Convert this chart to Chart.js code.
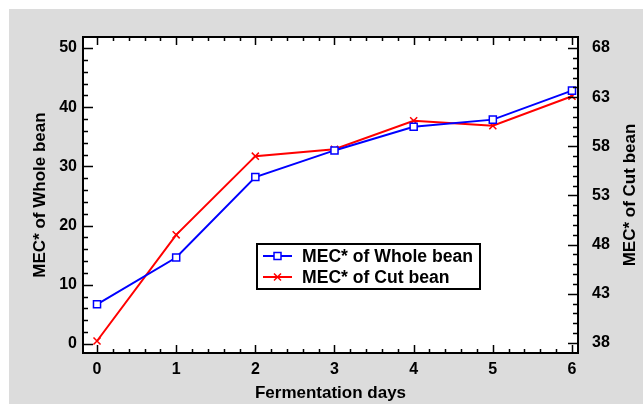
<!DOCTYPE html>
<html><head><meta charset="utf-8">
<script src="https://cdn.jsdelivr.net/npm/chart.js@4/dist/chart.umd.min.js"></script>
<style>html,body{margin:0;padding:0;background:#fff;overflow:hidden}</style>
</head><body><canvas id="c" width="643" height="404" style="display:block;width:643px;height:404px"></canvas>
<script>
const days = [0, 1, 2, 3, 4, 5, 6];
const wholeBean = [6.7, 14.6, 28.2, 32.7, 36.7, 37.9, 42.8];
const cutBean = [38.2, 49.0, 57.0, 57.7, 60.6, 60.1, 63.1];
const xTicks = [0, 1, 2, 3, 4, 5, 6];
const leftTicks = [0, 10, 20, 30, 40, 50];
const rightTicks = [38, 43, 48, 53, 58, 63, 68];
const seriesLabels = ['MEC* of Whole bean', 'MEC* of Cut bean'];
const xTitle = 'Fermentation days';
const leftTitle = 'MEC* of Whole bean';
const rightTitle = 'MEC* of Cut bean';

const FONT = '"Liberation Sans", Arial, sans-serif';

function minorsOf(majors, n) {
  const out = [];
  for (let i = 0; i < majors.length - 1; i++) {
    const a = majors[i], b = majors[i + 1];
    for (let k = 1; k < n; k++) out.push(a + (b - a) * k / n);
  }
  return out;
}

function drawMarker(ctx, style, x, y, color) {
  ctx.save();
  ctx.strokeStyle = color; ctx.lineWidth = 1.5;
  if (style === 'rect') {
    ctx.fillStyle = '#fff';
    ctx.beginPath(); ctx.rect(x - 3.5, y - 3.5, 7, 7); ctx.fill(); ctx.stroke();
  } else {
    ctx.beginPath();
    ctx.moveTo(x - 3.5, y - 3.5); ctx.lineTo(x + 3.5, y + 3.5);
    ctx.moveTo(x + 3.5, y - 3.5); ctx.lineTo(x - 3.5, y + 3.5);
    ctx.stroke();
  }
  ctx.restore();
}

const framePlugin = {
  id: 'frame',
  beforeDraw(chart) {
    const ctx = chart.ctx, a = chart.chartArea;
    ctx.save();
    ctx.fillStyle = '#ffffff'; ctx.fillRect(0, 0, chart.width, chart.height);
    ctx.fillStyle = '#dcdcdc'; ctx.fillRect(9, 9, chart.width - 9, chart.height - 9);
    ctx.fillStyle = '#ffffff'; ctx.fillRect(a.left, a.top, a.right - a.left, a.bottom - a.top);
    ctx.restore();
  },
  afterDatasetsDraw(chart) {
    const ctx = chart.ctx, a = chart.chartArea;
    const sx = chart.scales.x, sl = chart.scales.y, sr = chart.scales.y1;
    ctx.save();
    ctx.strokeStyle = '#000'; ctx.lineWidth = 1.5;
    ctx.beginPath();
    const tick = (vals, len, side, scale) => {
      vals.forEach(v => {
        const p = Math.round(scale.getPixelForValue(v)) + 0.5;
        if (side === 'b') { ctx.moveTo(p, a.bottom); ctx.lineTo(p, a.bottom - len); }
        if (side === 't') { ctx.moveTo(p, a.top); ctx.lineTo(p, a.top + len); }
        if (side === 'l') { ctx.moveTo(a.left, p); ctx.lineTo(a.left + len, p); }
        if (side === 'r') { ctx.moveTo(a.right, p); ctx.lineTo(a.right - len, p); }
      });
    };
    tick(xTicks, 8, 'b', sx); tick(minorsOf(xTicks, 5), 4, 'b', sx);
    tick(xTicks, 8, 't', sx); tick(minorsOf(xTicks, 5), 4, 't', sx);
    tick(leftTicks, 10, 'l', sl); tick(minorsOf(leftTicks, 5), 5, 'l', sl);
    tick(rightTicks, 10, 'r', sr); tick(minorsOf(rightTicks, 5), 5, 'r', sr);
    ctx.stroke();
    ctx.lineWidth = 2;
    ctx.strokeRect(a.left, a.top, a.right - a.left, a.bottom - a.top);

    // right axis title, reading bottom-to-top
    ctx.save();
    ctx.fillStyle = '#000'; ctx.font = 'bold 17px ' + FONT;
    ctx.textAlign = 'center'; ctx.textBaseline = 'middle';
    ctx.translate(630, (a.top + a.bottom) / 2);
    ctx.rotate(-Math.PI / 2);
    ctx.fillText(rightTitle, 0, 0);
    ctx.restore();

    // legend
    const lx = 257, ly = 244, lw = 223, lh = 45;
    ctx.fillStyle = '#fff'; ctx.fillRect(lx, ly, lw, lh);
    ctx.strokeStyle = '#000'; ctx.lineWidth = 2; ctx.strokeRect(lx, ly, lw, lh);
    const rows = [256, 277];
    chart.data.datasets.forEach((ds, i) => {
      const y = rows[i];
      ctx.strokeStyle = ds.borderColor; ctx.lineWidth = 2;
      ctx.beginPath(); ctx.moveTo(263, y); ctx.lineTo(292, y); ctx.stroke();
      drawMarker(ctx, ds.pointStyle, 277.5, y, ds.borderColor);
      ctx.fillStyle = '#000'; ctx.font = 'bold 17.6px ' + FONT;
      ctx.textBaseline = 'middle'; ctx.textAlign = 'left';
      ctx.fillText(ds.label, 302, y + 1);
    });
    ctx.restore();
  }
};

const tickFont = { family: FONT, size: 16, weight: 'bold' };
const titleFont = { family: FONT, size: 17, weight: 'bold' };

new Chart(document.getElementById('c'), {
  type: 'line',
  data: {
    datasets: [
      {
        label: seriesLabels[0],
        data: days.map((d, i) => ({ x: d, y: wholeBean[i] })),
        yAxisID: 'y',
        borderColor: '#0000ff', backgroundColor: '#ffffff',
        pointStyle: 'rect', pointRadius: 5, pointBorderWidth: 1.5,
        pointBackgroundColor: '#ffffff', borderWidth: 2, tension: 0, fill: false
      },
      {
        label: seriesLabels[1],
        data: days.map((d, i) => ({ x: d, y: cutBean[i] })),
        yAxisID: 'y1',
        borderColor: '#ff0000', backgroundColor: '#ff0000',
        pointStyle: 'crossRot', pointRadius: 5, pointBorderWidth: 1.5,
        borderWidth: 2, tension: 0, fill: false
      }
    ]
  },
  options: {
    responsive: false, animation: false, devicePixelRatio: 1,
    layout: { padding: { top: 37, left: 0, right: 0, bottom: 0 } },
    plugins: { legend: { display: false }, tooltip: { enabled: false } },
    scales: {
      x: {
        type: 'linear', min: -0.177, max: 6.076,
        afterBuildTicks(s) { s.ticks = xTicks.map(v => ({ value: v })); },
        afterFit(s) { s.height = 51; },
        grid: { display: false, drawTicks: false }, border: { display: false },
        ticks: { font: tickFont, color: '#000', padding: 7, autoSkip: false, maxRotation: 0 },
        title: { display: true, text: xTitle, font: titleFont, color: '#000', padding: { top: 0, bottom: 0.5 } }
      },
      y: {
        type: 'linear', position: 'left', min: -1.52, max: 51.86,
        afterBuildTicks(s) { s.ticks = leftTicks.map(v => ({ value: v })); },
        afterFit(s) { s.width = 83; },
        grid: { display: false, drawTicks: false }, border: { display: false },
        ticks: { font: tickFont, color: '#000', padding: 6, autoSkip: false },
        title: { display: true, text: leftTitle, font: titleFont, color: '#000', padding: { top: 30.5, bottom: 0 } }
      },
      y1: {
        type: 'linear', position: 'right', min: 36.98, max: 69.12,
        afterBuildTicks(s) { s.ticks = rightTicks.map(v => ({ value: v })); },
        afterFit(s) { s.width = 65; },
        grid: { display: false, drawTicks: false }, border: { display: false },
        ticks: { font: tickFont, color: '#000', padding: 14, autoSkip: false },
        title: { display: false, text: rightTitle }
      }
    }
  },
  plugins: [framePlugin]
});
</script>
</body></html>
